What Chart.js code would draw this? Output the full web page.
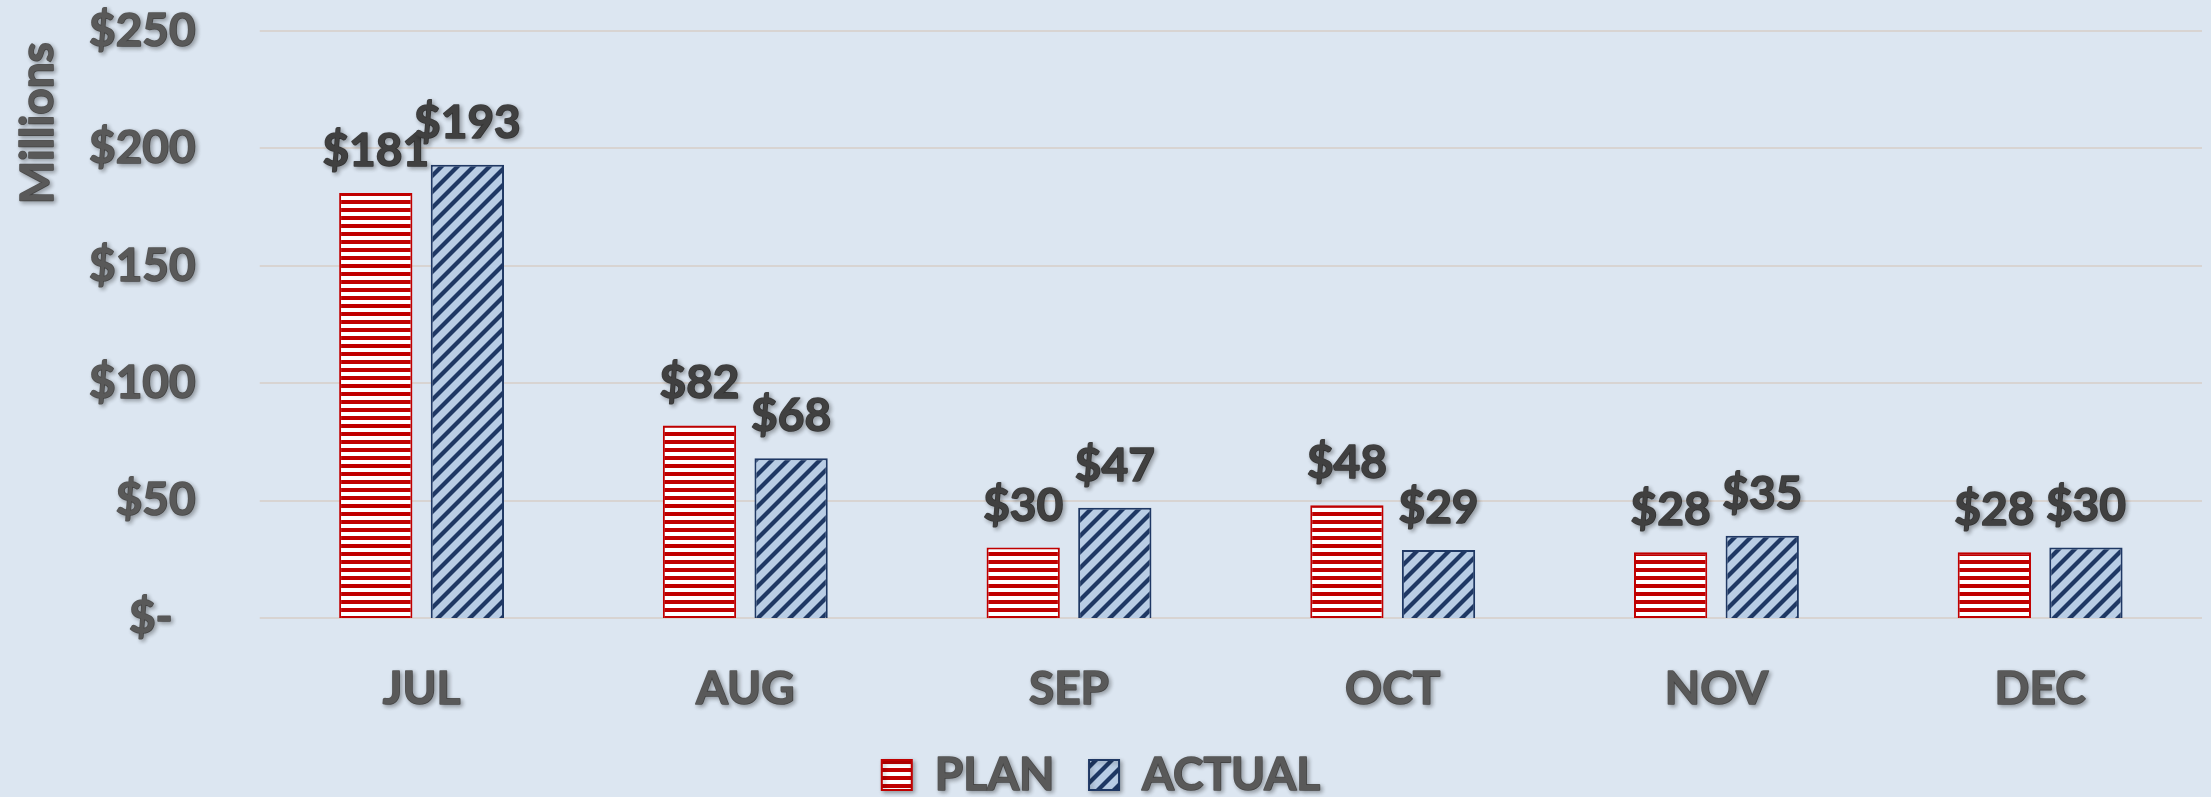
<!DOCTYPE html>
<html>
<head>
<meta charset="utf-8">
<script src="https://cdn.jsdelivr.net/npm/chart.js@4.4.1/dist/chart.umd.min.js"></script>
<style>
  html, body { margin: 0; padding: 0; background: #DCE6F1; }
  #wrap { width: 2211px; height: 797px; position: relative; }
</style>
</head>
<body>
<div id="wrap"><canvas id="c" width="2211" height="797"></canvas></div>
<script>
const categories = ['JUL', 'AUG', 'SEP', 'OCT', 'NOV', 'DEC'];
const planValues = [181, 82, 30, 48, 28, 28];
const actualValues = [193, 68, 47, 29, 35, 30];
const yTickLabels = ['$-\u2002', '$50', '$100', '$150', '$200', '$250'];
const seriesNames = ['PLAN', 'ACTUAL'];

const FONT = 'Lato';
const WEIGHT = 'bold';
const BG = '#DCE6F1';
const AXIS_TEXT = '#595959';

function planPattern() {
  const c = document.createElement('canvas');
  c.width = 8; c.height = 8;
  const g = c.getContext('2d');
  g.fillStyle = '#FFFFFF'; g.fillRect(0, 0, 8, 8);
  g.fillStyle = '#C00000'; g.fillRect(0, 0, 8, 4);
  return g.createPattern(c, 'repeat');
}
function actualPattern() {
  const s = 16;
  const c = document.createElement('canvas');
  c.width = s; c.height = s;
  const g = c.getContext('2d');
  g.fillStyle = '#B9CDE5'; g.fillRect(0, 0, s, s);
  g.strokeStyle = '#1F3864'; g.lineWidth = 4.2; g.lineCap = 'square';
  for (const k of [0, 1, 2]) {
    g.beginPath();
    g.moveTo(-s, k * s + s);
    g.lineTo(k * s + s, -s);
    g.stroke();
  }
  return g.createPattern(c, 'repeat');
}

function setShadow(ctx, on) {
  ctx.shadowColor = on ? 'rgba(0,0,0,0.3)' : 'rgba(0,0,0,0)';
  ctx.shadowBlur = on ? 4 : 0;
  ctx.shadowOffsetX = on ? 2 : 0;
  ctx.shadowOffsetY = on ? 2 : 0;
}

// Make all text a little heavier (Calibri Bold look): stroke each glyph run in its own fill colour.
function heavyText(ctx) {
  if (ctx.__heavy) return;
  ctx.__heavy = true;
  const origFill = ctx.fillText.bind(ctx);
  ctx.fillText = function (text, x, y, maxWidth) {
    if (typeof this.fillStyle === 'string') {
      this.save();
      this.strokeStyle = this.fillStyle;
      this.lineWidth = 1.6;
      this.lineJoin = 'round';
      if (maxWidth === undefined) this.strokeText(text, x, y); else this.strokeText(text, x, y, maxWidth);
      this.restore();
    }
    if (maxWidth === undefined) origFill(text, x, y); else origFill(text, x, y, maxWidth);
  };
}

const shadowPlugin = {
  id: 'excelLook',
  beforeDraw(chart) {
    const ctx = chart.ctx;
    heavyText(ctx);
    ctx.save();
    ctx.fillStyle = BG;
    ctx.fillRect(0, 0, chart.width, chart.height);
    const ys = chart.scales.y, area = chart.chartArea;
    ctx.strokeStyle = '#D8D4D2';
    ctx.lineWidth = 2;
    ys.ticks.forEach(t => {
      const y = Math.round(ys.getPixelForValue(t.value));
      ctx.beginPath();
      ctx.moveTo(area.left, y);
      ctx.lineTo(area.right, y);
      ctx.stroke();
    });
    ctx.restore();
    setShadow(ctx, true);
  },
  beforeDatasetsDraw(chart) { setShadow(chart.ctx, false); },
  afterDatasetsDraw(chart) {
    const ctx = chart.ctx;
    ctx.save();
    setShadow(ctx, true);
    ctx.font = WEIGHT + ' 46px ' + FONT;
    ctx.fillStyle = '#404040';
    ctx.textAlign = 'center';
    ctx.textBaseline = 'alphabetic';
    chart.data.datasets.forEach((ds, di) => {
      const meta = chart.getDatasetMeta(di);
      meta.data.forEach((bar, i) => {
        ctx.fillText('$' + ds.data[i], bar.x, bar.y - 27);
      });
    });
    ctx.restore();
  },
  afterDraw(chart) { setShadow(chart.ctx, false); }
};

const tickFont = { family: FONT, size: 46, weight: WEIGHT, lineHeight: 1 };

new Chart(document.getElementById('c'), {
  type: 'bar',
  data: {
    labels: categories,
    datasets: [
      { label: seriesNames[0], data: planValues, backgroundColor: planPattern(), borderColor: '#C00000', borderWidth: 2 },
      { label: seriesNames[1], data: actualValues, backgroundColor: actualPattern(), borderColor: '#1F3864', borderWidth: 2 }
    ]
  },
  options: {
    responsive: false,
    animation: false,
    devicePixelRatio: 1,
    categoryPercentage: 0.566,
    barPercentage: 0.8,
    layout: { padding: { top: 31, right: 9, left: 0, bottom: -11 } },
    plugins: {
      tooltip: { enabled: false },
      legend: {
        position: 'bottom',
        labels: {
          color: AXIS_TEXT,
          font: tickFont,
          boxWidth: 30,
          boxHeight: 30,
          padding: 0,
          generateLabels(chart) {
            const items = Chart.defaults.plugins.legend.labels.generateLabels(chart);
            items.forEach((it, i) => { if (i < items.length - 1) it.text = it.text + '\u2003'; });
            return items;
          }
        }
      }
    },
    scales: {
      x: {
        grid: { display: false },
        border: { display: false },
        afterFit(scale) { scale.height = 134; },
        ticks: { color: AXIS_TEXT, font: tickFont, padding: 40 }
      },
      y: {
        min: 0, max: 250,
        grid: { display: false },
        border: { display: false },
        afterFit(scale) { scale.paddingTop = 23; scale.paddingBottom = 23; },
        ticks: {
          stepSize: 50,
          color: AXIS_TEXT,
          font: tickFont,
          padding: 56,
          callback: (v, i) => yTickLabels[i]
        },
        title: {
          display: true,
          text: 'Millions ',
          align: 'end',
          color: AXIS_TEXT,
          font: { family: FONT, size: 46, weight: WEIGHT, lineHeight: 1 },
          padding: { top: 15, bottom: -28 }
        }
      }
    }
  },
  plugins: [shadowPlugin]
});
</script>
</body>
</html>
